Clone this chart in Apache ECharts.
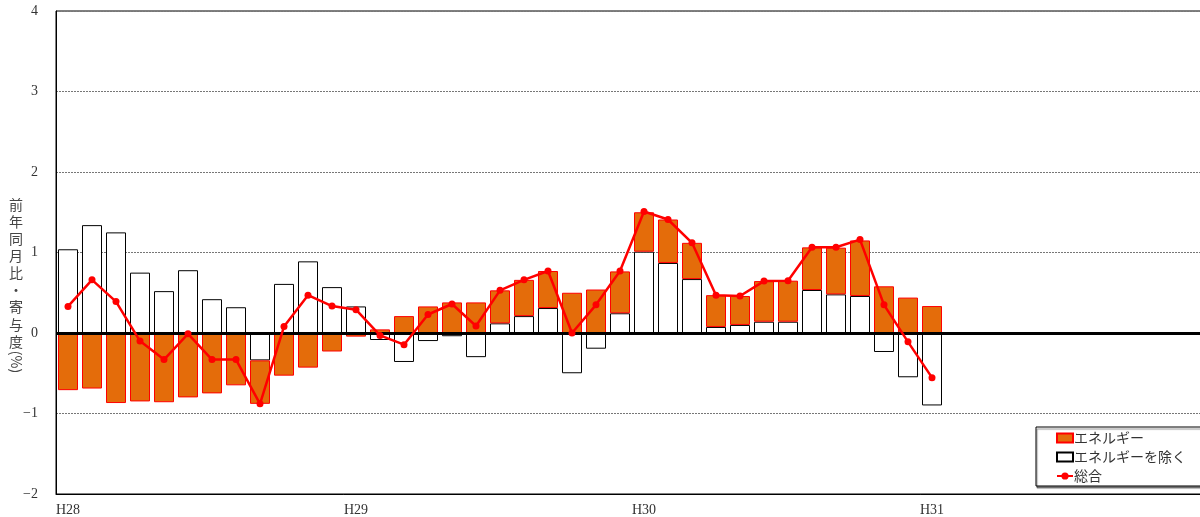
<!DOCTYPE html>
<html>
<head>
<meta charset="utf-8">
<script src="https://cdn.jsdelivr.net/npm/echarts@6/dist/echarts.min.js"></script>
<style>
html,body{margin:0;padding:0;background:#fff;overflow:hidden;}
#chart{width:1208px;height:517px;}
</style>
</head>
<body>
<div id="chart"></div>
<script>
// Year tick labels (each year has 12 monthly categories)
const yearLabels = ['H28', 'H29', 'H30', 'H31'];
const months = [1,2,3,4,5,6,7,8,9,10,11,12];
// Categories: monthly, H28/1 .. H31/12
const categories = [];
yearLabels.forEach(y => months.forEach(m => categories.push(y + '/' + m)));

// Contribution of energy (%)
const energy = [-0.71,-0.69,-0.87,-0.85,-0.86,-0.80,-0.75,-0.65,-0.54,-0.53,-0.43,-0.23,
  -0.045,0.045,0.21,0.33,0.38,0.38,0.41,0.45,0.46,0.50,0.54,0.52,
  0.49,0.54,0.45,0.395,0.36,0.505,0.51,0.53,0.58,0.69,0.58,0.44,
  0.335];
// Contribution excluding energy (%)
const exEnergy = [1.04,1.34,1.25,0.75,0.52,0.78,0.42,0.32,-0.34,0.61,0.89,0.57,
  0.33,-0.087,-0.36,-0.10,-0.04,-0.30,0.12,0.21,0.31,-0.50,-0.195,0.245,
  1.01,0.87,0.67,0.075,0.10,0.14,0.14,0.534,0.48,0.46,-0.236,-0.55,
  -0.90];
// Total year-on-year change (%)
const total = [0.33,0.66,0.39,-0.10,-0.33,-0.01,-0.33,-0.33,-0.88,0.08,0.47,0.335,
  0.29,-0.03,-0.145,0.23,0.36,0.087,0.53,0.66,0.77,0.0,0.35,0.77,
  1.51,1.41,1.12,0.47,0.46,0.645,0.65,1.065,1.065,1.16,0.35,-0.11,
  -0.555];

const seriesNames = ['エネルギー', 'エネルギーを除く', '総合'];
const yTitleChars = ['前','年','同','月','比','・','寄','与','度'];
const yTitleUnit = '(%)';

const serif = '"Liberation Serif", "DejaVu Serif", serif';
const jp = '"Noto Sans CJK JP", sans-serif';

const chart = echarts.init(document.getElementById('chart'));
chart.setOption({
  animation: false,
  backgroundColor: '#fff',
  grid: {
    left: 56, top: 11, right: 0, bottom: 23,
    show: true, borderColor: '#000', borderWidth: 1,
    backgroundColor: 'transparent'
  },
  xAxis: {
    type: 'category',
    data: categories,
    axisLine: { show: true, onZero: false, lineStyle: { color: '#000', width: 1 } },
    axisTick: { show: false },
    axisLabel: {
      interval: (i) => i % 12 === 0,
      formatter: (v) => v.split('/')[0],
      fontFamily: serif, fontSize: 14, color: '#333', margin: 9
    },
    splitLine: { show: false }
  },
  yAxis: {
    type: 'value',
    min: -2, max: 4, interval: 1,
    axisLine: { show: true, lineStyle: { color: '#000', width: 1 } },
    axisTick: { show: false },
    axisLabel: {
      formatter: (v) => v < 0 ? '−' + Math.abs(v) : String(v),
      fontFamily: serif, fontSize: 14, color: '#333', margin: 18
    },
    splitLine: { show: true, lineStyle: { color: '#777', type: [2, 1], width: 1 } }
  },
  legend: {
    data: [
      { name: seriesNames[0], icon: 'rect' },
      { name: seriesNames[1], icon: 'rect' },
      { name: seriesNames[2] }
    ],
    orient: 'vertical',
    left: 1036, top: 427,
    padding: [4, 60, 3, 20],
    itemWidth: 16, itemHeight: 9, itemGap: 5,
    borderColor: '#000', borderWidth: 1,
    backgroundColor: '#fff',
    shadowColor: 'rgba(0,0,0,0.45)', shadowOffsetX: 1, shadowOffsetY: 2, shadowBlur: 1,
    textStyle: { fontFamily: jp, fontSize: 14, color: '#333', padding: [0, 0, 0, -4] }
  },
  graphic: [{
    type: 'text',
    left: 9, top: 196,
    style: {
      text: yTitleChars.join('\n'),
      font: '14px ' + jp,
      fill: '#444',
      lineHeight: 17.1,
      textAlign: 'center'
    }
  }, {
    type: 'text',
    x: 16, y: 362,
    rotation: -Math.PI / 2,
    style: {
      text: yTitleUnit,
      font: '14px ' + jp,
      fill: '#444',
      align: 'center',
      verticalAlign: 'middle'
    }
  }],
  series: [
    {
      name: seriesNames[1],
      type: 'bar',
      stack: 'c',
      data: exEnergy,
      barWidth: 20,
      itemStyle: { color: '#fff', borderColor: '#000', borderWidth: 1 },
      z: 2
    },
    {
      name: seriesNames[0],
      type: 'bar',
      stack: 'c',
      data: energy,
      barWidth: 20,
      itemStyle: { color: '#E46C0A', borderColor: '#FF0000', borderWidth: 1 },
      z: 3,
      markLine: {
        silent: true, symbol: 'none', label: { show: false },
        lineStyle: { color: '#000', width: 3, type: 'solid' },
        data: [{ yAxis: 0 }]
      }
    },
    {
      name: seriesNames[2],
      type: 'line',
      data: total,
      symbol: 'circle', symbolSize: 7,
      lineStyle: { color: '#FF0000', width: 2.5 },
      itemStyle: { color: '#FF0000' },
      z: 5
    }
  ]
});
</script>
</body>
</html>
